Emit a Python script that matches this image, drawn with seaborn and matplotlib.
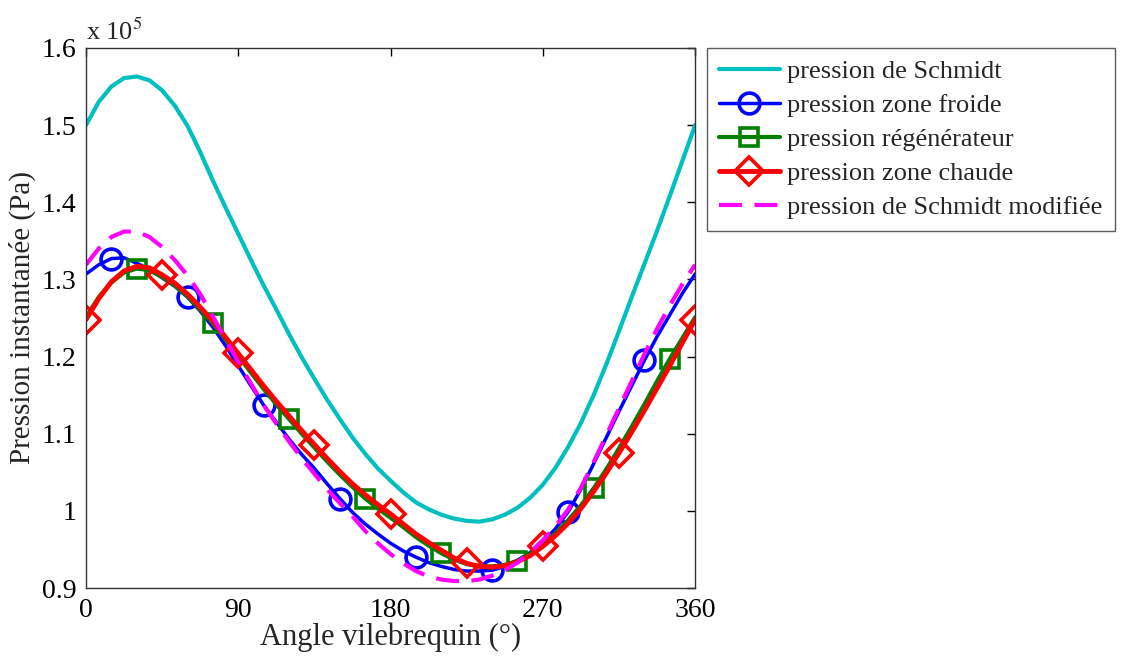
import numpy as np
import pandas as pd
import matplotlib
matplotlib.use("Agg")
import matplotlib.pyplot as plt
import seaborn as sns

# Pression instantanée vs angle vilebrequin (valeurs en 10^5 Pa)
angles = np.arange(0, 360.1, 7.5)

p_schmidt = [1.500, 1.530, 1.550, 1.561, 1.563, 1.558, 1.545, 1.525, 1.499, 1.465,
             1.428, 1.393, 1.359, 1.325, 1.292, 1.261, 1.229, 1.199, 1.171, 1.144,
             1.119, 1.095, 1.074, 1.055, 1.039, 1.024, 1.011, 1.002, 0.995, 0.990,
             0.987, 0.986, 0.989, 0.995, 1.004, 1.017, 1.034, 1.056, 1.083, 1.114,
             1.150, 1.190, 1.233, 1.277, 1.320, 1.363, 1.408, 1.454, 1.500]

p_froide = [1.307, 1.319, 1.327, 1.328, 1.321, 1.313, 1.302, 1.291, 1.277, 1.259,
            1.238, 1.214, 1.188, 1.162, 1.137, 1.115, 1.093, 1.073, 1.055, 1.035,
            1.016, 0.998, 0.983, 0.970, 0.958, 0.948, 0.940, 0.933, 0.928, 0.924,
            0.922, 0.922, 0.923, 0.928, 0.936, 0.946, 0.960, 0.977, 0.999, 1.028,
            1.061, 1.095, 1.129, 1.162, 1.195, 1.226, 1.254, 1.282, 1.307]

p_regen = [1.251, 1.277, 1.296, 1.309, 1.314, 1.312, 1.303, 1.292, 1.278, 1.261,
           1.243, 1.222, 1.201, 1.179, 1.158, 1.138, 1.119, 1.100, 1.082, 1.064,
           1.047, 1.031, 1.016, 1.003, 0.991, 0.979, 0.966, 0.955, 0.945, 0.937,
           0.931, 0.928, 0.928, 0.930, 0.935, 0.944, 0.957, 0.971, 0.988, 1.007,
           1.029, 1.054, 1.081, 1.109, 1.138, 1.168, 1.197, 1.224, 1.251]

p_chaude = [1.248, 1.275, 1.297, 1.311, 1.317, 1.315, 1.306, 1.295, 1.281, 1.264,
            1.246, 1.225, 1.204, 1.183, 1.162, 1.142, 1.123, 1.104, 1.086, 1.068,
            1.051, 1.035, 1.021, 1.008, 0.996, 0.983, 0.970, 0.959, 0.949, 0.939,
            0.932, 0.928, 0.927, 0.929, 0.934, 0.942, 0.954, 0.968, 0.984, 1.003,
            1.025, 1.049, 1.075, 1.102, 1.130, 1.159, 1.188, 1.218, 1.248]

p_modif = [1.319, 1.340, 1.355, 1.362, 1.362, 1.355, 1.342, 1.325, 1.305, 1.281,
           1.252, 1.222, 1.193, 1.165, 1.137, 1.113, 1.090, 1.068, 1.048, 1.028,
           1.010, 0.993, 0.974, 0.958, 0.944, 0.932, 0.922, 0.915, 0.911, 0.909,
           0.909, 0.911, 0.916, 0.923, 0.933, 0.946, 0.962, 0.980, 1.002, 1.030,
           1.063, 1.098, 1.133, 1.168, 1.203, 1.236, 1.266, 1.294, 1.319]

labels = ["pression de Schmidt", "pression zone froide", "pression régénérateur",
          "pression zone chaude", "pression de Schmidt modifiée"]
xticks = [0, 90, 180, 270, 360]
yticks = [0.9, 1.0, 1.1, 1.2, 1.3, 1.4, 1.5, 1.6]
ytick_labels = ["0.9", "1", "1.1", "1.2", "1.3", "1.4", "1.5", "1.6"]

df = pd.DataFrame({"angle": angles, "schmidt": p_schmidt, "froide": p_froide,
                   "regen": p_regen, "chaude": p_chaude, "modif": p_modif})

sns.set_theme(style="white")
plt.rcParams["font.family"] = ["Liberation Serif", "DejaVu Serif"]
plt.rcParams["mathtext.fontset"] = "stix"

fig, ax = plt.subplots(figsize=(11.23, 6.57), dpi=100)
fig.subplots_adjust(left=0.0766, right=0.619, bottom=0.105, top=0.927)

sns.lineplot(data=df, x="angle", y="schmidt", ax=ax, color="#00BFBF", lw=3,
             label=labels[0], errorbar=None)
sns.lineplot(data=df, x="angle", y="froide", ax=ax, color="#0000FF", lw=2.5,
             marker="o", markersize=15, markeredgewidth=2.6, markerfacecolor="none",
             markeredgecolor="#0000FF", markevery=(2, 6), label=labels[1], errorbar=None)
sns.lineplot(data=df, x="angle", y="regen", ax=ax, color="#008000", lw=3,
             marker="s", markersize=13, markeredgewidth=2.6, markerfacecolor="none",
             markeredgecolor="#008000", markevery=(4, 6), label=labels[2], errorbar=None)
sns.lineplot(data=df, x="angle", y="chaude", ax=ax, color="#FF0000", lw=3.5,
             marker="D", markersize=14, markeredgewidth=2.6, markerfacecolor="none",
             markeredgecolor="#FF0000", markevery=(0, 6), label=labels[3], errorbar=None)
sns.lineplot(data=df, x="angle", y="modif", ax=ax, color="#FF00FF", lw=3,
             linestyle=(0, (5.5, 3)), label=labels[4], errorbar=None)

ax.set_xlim(0, 360)
ax.set_ylim(0.9, 1.6)
ax.set_xticks(xticks)
ax.set_yticks(yticks)
ax.set_yticklabels(ytick_labels)
ax.tick_params(direction="in", top=True, right=True, length=6, width=1,
               labelsize=20, colors="black", pad=7)
for sp in ax.spines.values():
    sp.set_color("#333333")
    sp.set_linewidth(1)

ax.set_xlabel("Angle vilebrequin (°)", fontsize=22, labelpad=0)
ax.set_ylabel("Pression instantanée (Pa)", fontsize=21, labelpad=4)
fig.text(86 / 1123, 1 - 40 / 657, r"x 10$^{5}$", fontsize=19, va="baseline")

leg = ax.legend(loc="upper left", bbox_to_anchor=(707 / 1123, 1 - 48 / 657),
                bbox_transform=fig.transFigure, frameon=True, fancybox=False,
                edgecolor="#333333", borderaxespad=0, fontsize=19, handlelength=2.3,
                labelspacing=0.4, borderpad=0.45, handletextpad=0.3)
leg.get_frame().set_linewidth(1)

fig.savefig("out.png", dpi=100, facecolor="white")
